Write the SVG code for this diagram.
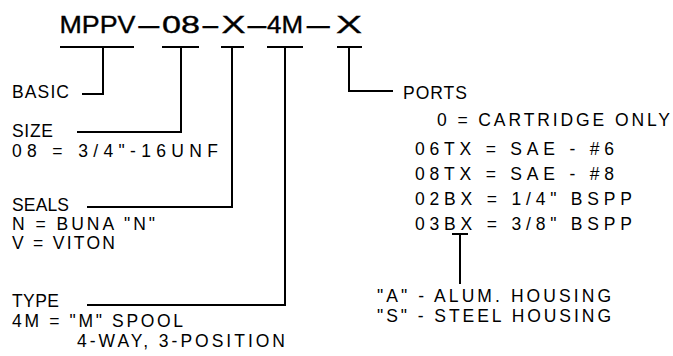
<svg xmlns="http://www.w3.org/2000/svg" width="673" height="356" viewBox="0 0 673 356">
<style>
.t{font-family:"Liberation Sans",Arial,sans-serif;font-size:17.5px;fill:#000}
.title{font-family:"Liberation Sans",Arial,sans-serif;font-size:24px;fill:#000;stroke:#000;stroke-width:0.35}
.ln{stroke:#000;stroke-width:2;fill:none}
</style>
<rect width="673" height="356" fill="#fff"/>
<g id="code">
<text class="title" y="33"><tspan x="59.5" textLength="76" lengthAdjust="spacingAndGlyphs">MPPV</tspan><tspan x="135.4" textLength="27.2" lengthAdjust="spacingAndGlyphs">-</tspan><tspan x="162" textLength="38" lengthAdjust="spacingAndGlyphs">08</tspan><tspan x="200.3" textLength="20.3" lengthAdjust="spacingAndGlyphs">-</tspan><tspan x="221.5" textLength="24" lengthAdjust="spacingAndGlyphs">X</tspan><tspan x="244.7" textLength="24.4" lengthAdjust="spacingAndGlyphs">-</tspan><tspan x="267" textLength="36" lengthAdjust="spacingAndGlyphs">4M</tspan><tspan x="303.4" textLength="30" lengthAdjust="spacingAndGlyphs">-</tspan><tspan x="336" textLength="26" lengthAdjust="spacingAndGlyphs">X</tspan></text>
</g>
<g id="basic">
<text class="t" x="12" y="98" textLength="57" lengthAdjust="spacing">BASIC</text>
</g>
<g id="size">
<text class="t" x="12" y="137" textLength="41" lengthAdjust="spacing">SIZE</text>
<text class="t" x="12" y="157" textLength="206" lengthAdjust="spacing">08 = 3/4"-16UNF</text>
</g>
<g id="seals">
<text class="t" x="12" y="211" textLength="57" lengthAdjust="spacing">SEALS</text>
<text class="t" x="12" y="230" textLength="143" lengthAdjust="spacing">N = BUNA "N"</text>
<text class="t" x="12" y="249" textLength="103" lengthAdjust="spacing">V = VITON</text>
</g>
<g id="type">
<text class="t" x="12" y="307" textLength="47" lengthAdjust="spacing">TYPE</text>
<text class="t" x="12" y="327" textLength="171" lengthAdjust="spacing">4M = "M" SPOOL</text>
<text class="t" x="77" y="347" textLength="208" lengthAdjust="spacing">4-WAY, 3-POSITION</text>
</g>
<g id="ports">
<text class="t" x="403" y="99" textLength="64" lengthAdjust="spacing">PORTS</text>
<text class="t" x="437" y="126" textLength="233" lengthAdjust="spacing">0 = CARTRIDGE ONLY</text>
<text class="t" x="415" y="155" textLength="199" lengthAdjust="spacing">06TX = SAE - #6</text>
<text class="t" x="415" y="180" textLength="199" lengthAdjust="spacing">08TX = SAE - #8</text>
<text class="t" x="415" y="205" textLength="217" lengthAdjust="spacing">02BX = 1/4" BSPP</text>
<text class="t" x="415" y="230" textLength="217" lengthAdjust="spacing">03BX = 3/8" BSPP</text>
</g>
<g id="housing">
<text class="t" x="377" y="302" textLength="234" lengthAdjust="spacing">"A" - ALUM. HOUSING</text>
<text class="t" x="377" y="322" textLength="234" lengthAdjust="spacing">"S" - STEEL HOUSING</text>
</g>
<g id="connectors">
<path class="ln" d="M60 47H134M162 47H199M221 47H244M267 47H303M337 47H362"/>
<path class="ln" d="M103 47V94H82"/>
<path class="ln" d="M181 47V132H77"/>
<path class="ln" d="M232 47V207H87"/>
<path class="ln" d="M285 47V305H87"/>
<path class="ln" d="M349 47V91H393"/>
<path class="ln" d="M452 234H468M460 234V284"/>
</g>
</svg>
